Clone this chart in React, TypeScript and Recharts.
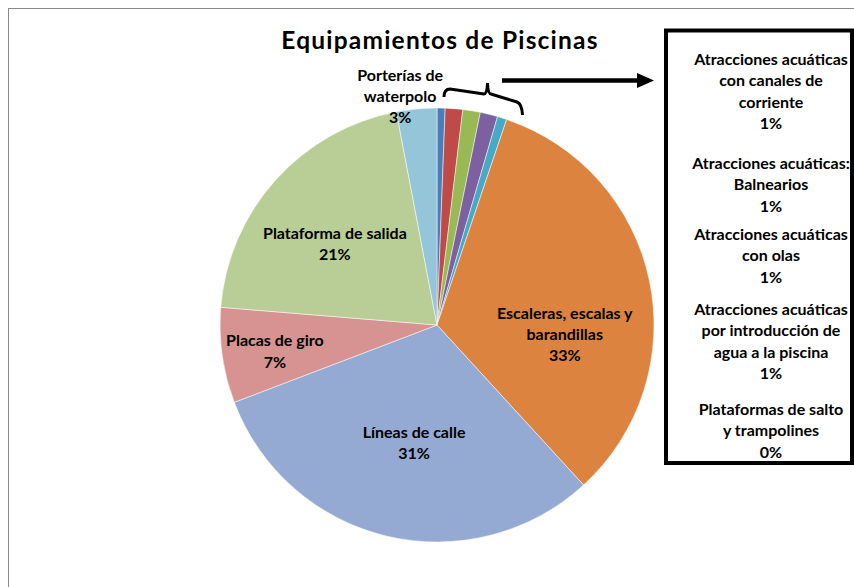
import React from "react";
import { PieChart, Pie, Cell } from "recharts";

const chartTitle = "Equipamientos de Piscinas";

const sliceNames = [
  "Atracciones acuáticas con canales de corriente",
  "Atracciones acuáticas: Balnearios",
  "Atracciones acuáticas con olas",
  "Atracciones acuáticas por introducción de agua a la piscina",
  "Plataformas de salto y trampolines",
  "Escaleras, escalas y barandillas",
  "Líneas de calle",
  "Placas de giro",
  "Plataforma de salida",
  "Porterías de waterpolo",
];

const sliceValues = [0.6, 1.3, 1.3, 1.3, 0.7, 33.0, 31.0, 7.1, 20.7, 3.0];

const sliceColors = [
  "#4A7EBB",
  "#BE4B48",
  "#98B954",
  "#7D60A0",
  "#46AAC5",
  "#DC843F",
  "#94AAD3",
  "#D69391",
  "#B9CE96",
  "#95C5D8",
];

// label text shown on the pie (empty for the small slices, explained in the box)
const pieLabelLines: string[][] = [
  [],
  [],
  [],
  [],
  [],
  ["Escaleras, escalas y", "barandillas", "33%"],
  ["Líneas de calle", "31%"],
  ["Placas de giro", "7%"],
  ["Plataforma de salida", "21%"],
  ["Porterías de", "waterpolo", "3%"],
];

// label placement (radius as fraction of outer radius, angle shift in degrees)
const labelRadius = [0, 0, 0, 0, 0, 0.59, 0.548, 0.756, 0.604, 1.074];
const labelShift = [0, 0, 0, 0, 0, -15.5, 2.2, 0.7, 3.1, 3.7];

const boxEntries: string[][] = [
  ["Atracciones acuáticas", "con canales de", "corriente", "1%"],
  ["Atracciones acuáticas:", "Balnearios", "1%"],
  ["Atracciones acuáticas", "con olas", "1%"],
  ["Atracciones acuáticas", "por introducción de", "agua a la piscina", "1%"],
  ["Plataformas de salto", "y trampolines", "0%"],
];
const boxEntryTop = [58, 162, 233, 308, 408];

const data = sliceNames.map((name, i) => ({ name, value: sliceValues[i] }));

const FONT = "Lato, 'Open Sans', sans-serif";
const LABEL_SIZE = 16;
const LINE = 21.3;
const RAD = Math.PI / 180;

const renderLabel = (props: any) => {
  const { cx, cy, midAngle, outerRadius, index } = props;
  const lines = pieLabelLines[index];
  if (!lines || lines.length === 0) return null;
  const a = (midAngle + labelShift[index]) * RAD;
  const r = outerRadius * labelRadius[index];
  const x = cx + r * Math.cos(a);
  const y = cy - r * Math.sin(a);
  const first = y - ((lines.length - 1) * LINE) / 2;
  return (
    <text
      key={`lbl-${index}`}
      x={x}
      y={first}
      textAnchor="middle"
      dominantBaseline="central"
      fontFamily={FONT}
      fontWeight={700}
      fontSize={LABEL_SIZE}
      fill="#000"
    >
      {lines.map((t, j) => (
        <tspan key={j} x={x} y={first + j * LINE}>
          {t}
        </tspan>
      ))}
    </text>
  );
};

export default function App() {
  return (
    <div
      style={{
        position: "fixed",
        left: 0,
        top: 0,
        width: 854,
        height: 587,
        overflow: "hidden",
        background: "#fff",
      }}
    >
      <PieChart width={854} height={587} margin={{ top: 0, right: 0, bottom: 0, left: 0 }}>
        <rect x={8.5} y={8.5} width={1000} height={1000} fill="#fff" stroke="#8A8A8A" strokeWidth={1} />
        <text
          x={440}
          y={49}
          textAnchor="middle"
          fontFamily={FONT}
          fontWeight={700}
          fontSize={24.5}
          letterSpacing={1.2}
          fill="#000"
        >
          {chartTitle}
        </text>
        <Pie
          data={data}
          dataKey="value"
          nameKey="name"
          cx={437}
          cy={325}
          outerRadius={217}
          startAngle={90}
          endAngle={-270}
          isAnimationActive={false}
          labelLine={false}
          label={renderLabel}
          stroke="#ffffff"
          strokeWidth={0.5}
        >
          {data.map((d, i) => (
            <Cell key={d.name} fill={sliceColors[i]} />
          ))}
        </Pie>
        <path
          d="M444,97 Q444,89 450,89 L484,94 Q487,94 487.5,83 Q488,94 491,94 L517,102 Q522,104 522.5,115"
          fill="none"
          stroke="#000"
          strokeWidth={3}
        />
        <line x1={502} y1={80.5} x2={640} y2={80.5} stroke="#000" strokeWidth={4.5} />
        <polygon points="637,73 654,80.5 637,88" fill="#000" />
        <rect x={666} y={30.5} width={186} height={432.5} fill="#fff" stroke="#000" strokeWidth={4} />
        {boxEntries.map((lines, i) => (
          <text
            key={`box-${i}`}
            textAnchor="middle"
            dominantBaseline="central"
            fontFamily={FONT}
            fontWeight={700}
            fontSize={LABEL_SIZE}
            fill="#000"
          >
            {lines.map((t, j) => (
              <tspan key={j} x={771} y={boxEntryTop[i] + j * LINE}>
                {t}
              </tspan>
            ))}
          </text>
        ))}
      </PieChart>
    </div>
  );
}
